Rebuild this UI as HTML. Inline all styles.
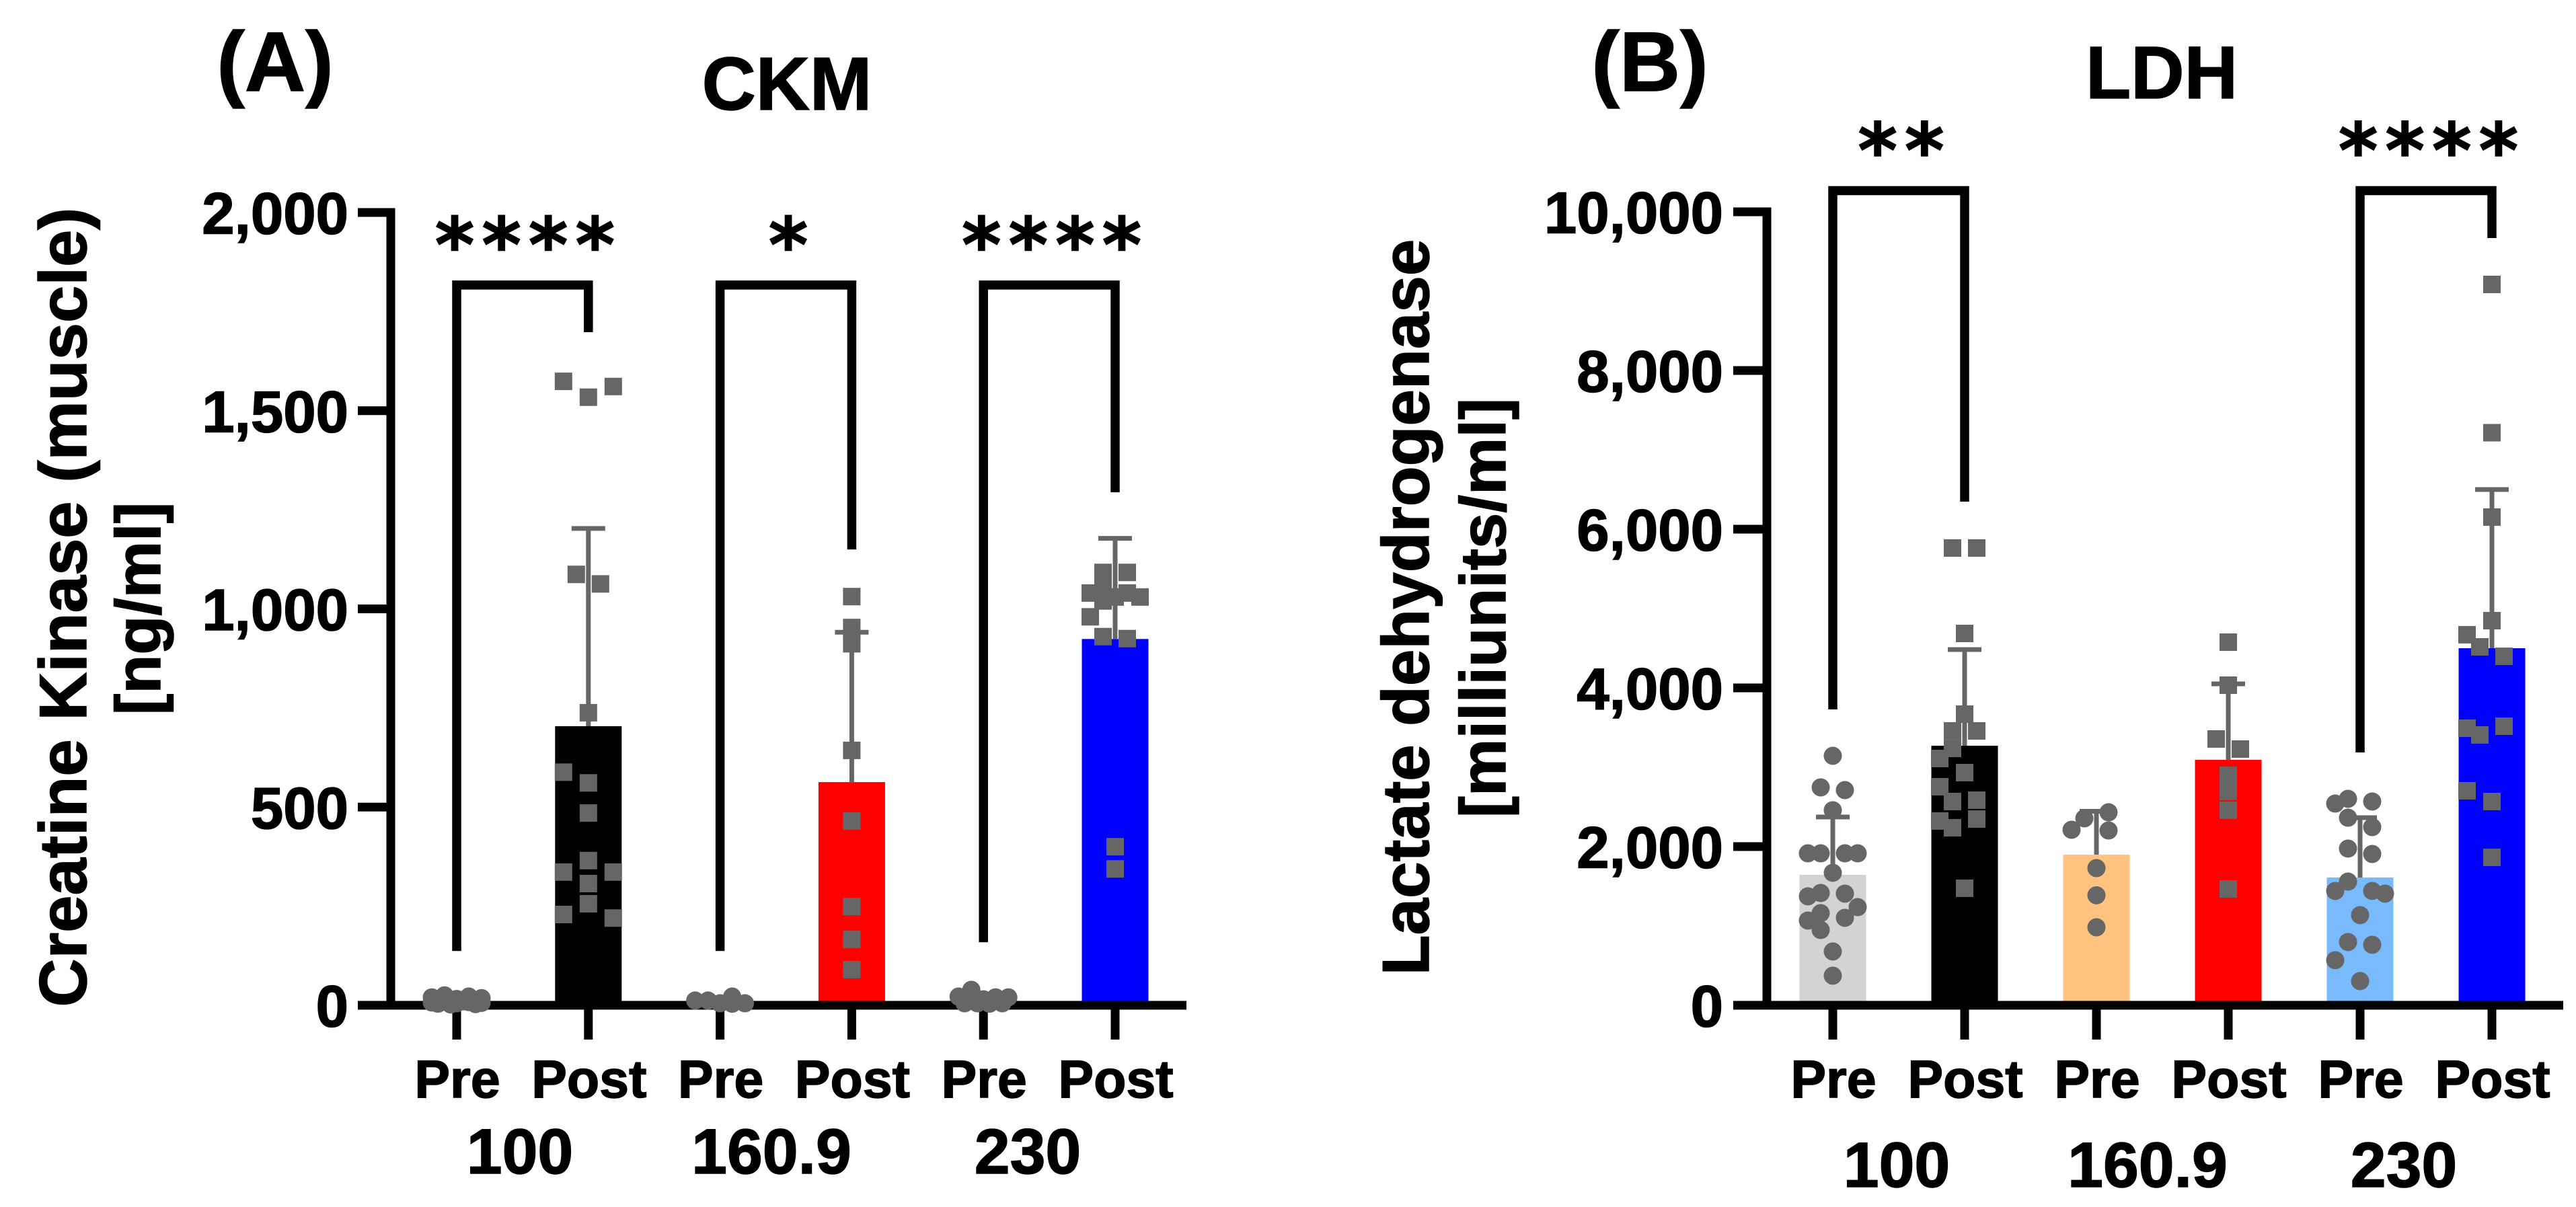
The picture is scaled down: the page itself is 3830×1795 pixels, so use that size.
<!DOCTYPE html>
<html lang="en">
<head>
<meta charset="utf-8">
<title>CKM and LDH pre/post bar charts</title>
<style>
html,body{margin:0;padding:0;background:#fff;}
svg{display:block;}
text{font-family:"Liberation Sans",Arial,sans-serif;font-weight:700;fill:#000;stroke:#000;stroke-width:1.5px;}
.stars{font-family:"DejaVu Sans",sans-serif;font-weight:700;}
</style>
</head>
<body>
<svg id="chart" xmlns="http://www.w3.org/2000/svg" width="3830" height="1795" viewBox="0 0 3830 1795">
  <rect x="0" y="0" width="3830" height="1795" fill="#fff"/>
  <g id="panel-a">
    <text x="409" y="135" font-size="125" text-anchor="middle">(A)</text>
    <text x="1170" y="163" font-size="111" text-anchor="middle">CKM</text>
    <text transform="translate(128 903) rotate(-90)" font-size="99.5" text-anchor="middle">Creatine Kinase (muscle)</text>
    <text transform="translate(238 905) rotate(-90)" font-size="95" text-anchor="middle">[ng/ml]</text>
  </g>
  <g id="panel-b">
    <text x="2453" y="135" font-size="125" text-anchor="middle">(B)</text>
    <text x="3214" y="146" font-size="110" text-anchor="middle">LDH</text>
    <text transform="translate(2124 903) rotate(-90)" font-size="98" text-anchor="middle">Lactate dehydrogenase</text>
    <text transform="translate(2238 904) rotate(-90)" font-size="96" text-anchor="middle">[milliunits/ml]</text>
  </g>
</svg>
<script>
// ---------- shared categories ----------
const timepoints = ['Pre', 'Post', 'Pre', 'Post', 'Pre', 'Post'];
const groupLabels = ['100', '160.9', '230'];

// ---------- panel A: CKM (ng/ml) ----------
const ckmTicks = [0, 500, 1000, 1500, 2000];
const ckmTickLabels = ['0', '500', '1,000', '1,500', '2,000'];
const ckmMeans = [12, 704, 10, 563, 12, 924];
const ckmSds = [7, 499, 7, 378, 11, 254];
const ckmPre100 = [25, 22, 20, 18, 16, 14, 12, 11, 10, 9, 8, 7, 6, 5, 4, 3, 2];
const ckmPost100 = [1534, 1574, 1561, 1087, 1063, 738, 561, 588, 485, 365, 307, 336, 336, 256, 229, 220];
const ckmPre160 = [12, 22, 12, 5, 5, 4];
const ckmPost160 = [1031, 953, 912, 643, 465, 249, 166, 90];
const ckmPre230 = [39, 20, 22, 20, 15, 15, 5, 5, 5, 4];
const ckmPost230 = [1092, 1092, 1050, 1040, 1040, 1030, 1030, 1020, 980, 930, 925, 400, 344];
const ckmBracketPairs = [[0, 1], [2, 3], [4, 5]];
const ckmBracketTops = [1817, 1817, 1817];
const ckmBracketLeftEnds = [137, 137, 159];
const ckmBracketRightEnds = [1698, 1150, 1294];
const ckmStars = ['****', '*', '****'];

// ---------- panel B: LDH (milliunits/ml) ----------
const ldhTicks = [0, 2000, 4000, 6000, 8000, 10000];
const ldhTickLabels = ['0', '2,000', '4,000', '6,000', '8,000', '10,000'];
const ldhMeans = [1644, 3271, 1898, 3093, 1610, 4500];
const ldhSds = [729, 1212, 547, 958, 754, 2000];
const ldhPre100 = [3144, 2746, 2712, 2458, 1915, 1915, 1915, 1915, 1670, 1415, 1407, 1373, 1237, 1161, 1102, 1068, 949, 678, 373];
const ldhPost100 = [5763, 5763, 4686, 3669, 3458, 3458, 2932, 3237, 3110, 2754, 2568, 2585, 2237, 2347, 2322, 1475];
const ldhPre160 = [2356, 2432, 2203, 2212, 1729, 1386, 983];
const ldhPost160 = [4576, 4034, 3356, 3229, 2898, 2695, 2458, 1466];
const ldhPre230 = [2602, 2568, 2542, 2364, 2246, 1975, 1907, 1559, 1441, 1441, 1407, 1136, 797, 763, 568, 305];
const ldhPost230 = [9085, 7216, 6153, 4847, 4670, 4517, 4398, 3407, 3517, 3492, 2568, 2703, 1864];
const ldhBracketPairs = [[0, 1], [4, 5]];
const ldhBracketTops = [10267, 10267];
const ldhBracketLeftEnds = [3729, 3186];
const ldhBracketRightEnds = [6347, 9669];
const ldhStars = ['**', '****'];

const SVGNS = 'http://www.w3.org/2000/svg';
const POINT_GREY = '#666666';

function make(tag, attrs, parent) {
  const node = document.createElementNS(SVGNS, tag);
  for (const k in attrs) node.setAttribute(k, attrs[k]);
  parent.appendChild(node);
  return node;
}

// Beeswarm layout: each value is placed in array order in the first free lane.
const LONE_LANES = [0, -37, 37, -18, 18, -12, 12];
const TIED_LANES = [-18, 18, -37, 37, 0, -12, 12];
function swarm(values, yOf) {
  const placed = [];
  return values.map(function (v, i) {
    const y = yOf(v);
    const tied = values.some(function (o, j) { return j !== i && Math.abs(yOf(o) - y) < 15; });
    const lanes = tied ? TIED_LANES : LONE_LANES;
    let lane = null;
    for (const c of lanes) {
      const hit = placed.some(function (p) {
        const dx = Math.abs(p.dx - c);
        const dy = Math.abs(p.y - y);
        return dx === 0 ? dy < 22 : (dx <= 18 && dy < 24.5);
      });
      if (!hit) { lane = c; break; }
    }
    if (lane === null) {
      let best = -1;
      for (const c of [-37, 37, -18, 18, 0, -28, 28, -9, 9]) {
        let nearest = 1e9;
        for (const p of placed) nearest = Math.min(nearest, Math.hypot(p.dx - c, p.y - y));
        if (nearest > best) { best = nearest; lane = c; }
      }
    }
    placed.push({ dx: lane, y: y });
    return lane;
  });
}

function drawPanel(cfg) {
  const root = document.getElementById(cfg.id);
  const yOf = function (v) { return cfg.y0 - v * cfg.pxPerUnit; };
  const xOf = function (i) { return cfg.x0 + i * cfg.step; };

  // bars
  cfg.means.forEach(function (m, i) {
    const top = yOf(m);
    const bar = make('rect', { x: xOf(i) - 49.5, y: top, width: 99, height: cfg.y0 - top, fill: cfg.colors[i] }, root);
    
    
  });

  // axes
  const yAxis = make('line', { x1: cfg.axisX, x2: cfg.axisX, y1: yOf(cfg.ticks[cfg.ticks.length - 1]) - 6.5, y2: cfg.y0 + 6, stroke: '#000', 'stroke-width': 13 }, root);
  
  
  const xAxis = make('line', { x1: cfg.tickX, x2: cfg.xEnd, y1: cfg.y0, y2: cfg.y0, stroke: '#000', 'stroke-width': 13 }, root);
  
  

  cfg.ticks.forEach(function (t, i) {
    const y = yOf(t);
    const tick = make('line', { x1: cfg.tickX, x2: cfg.axisX, y1: y, y2: y, stroke: '#000', 'stroke-width': 13 }, root);
    
    
    const label = make('text', { x: cfg.tickLabelX, y: y + 31.5, 'font-size': 87, 'text-anchor': 'end' }, root);
    
    
    label.textContent = cfg.tickLabels[i];
  });

  timepoints.forEach(function (t, i) {
    const tick = make('line', { x1: xOf(i), x2: xOf(i), y1: cfg.y0 + 6, y2: 1546, stroke: '#000', 'stroke-width': 13 }, root);
    
    
    const label = make('text', { x: xOf(i) + 1, y: 1632, 'font-size': 79, 'text-anchor': 'middle' }, root);
    
    
    label.textContent = t;
  });

  groupLabels.forEach(function (g, i) {
    const label = make('text', { x: cfg.groupX + i * cfg.groupStep[i], y: cfg.groupY, 'font-size': 95, 'text-anchor': 'middle' }, root);
    
    
    label.textContent = g;
  });

  // significance brackets
  cfg.bracketPairs.forEach(function (pair, i) {
    const xa = xOf(pair[0]);
    const xb = xOf(pair[1]);
    const pts = [xa, yOf(cfg.bracketLeftEnds[i]), xa, yOf(cfg.bracketTops[i]), xb, yOf(cfg.bracketTops[i]), xb, yOf(cfg.bracketRightEnds[i])].join(' ');
    const bracket = make('polyline', { points: pts, fill: 'none', stroke: '#000', 'stroke-width': 13.5, 'stroke-linejoin': 'miter' }, root);
    
    
    const stars = make('text', { x: (xa + xb) / 2 + cfg.starShift + 5, y: yOf(cfg.bracketTops[i]) + cfg.starDy, 'font-size': 112, 'text-anchor': 'middle', 'letter-spacing': 11, class: 'stars' }, root);
    
    
    stars.textContent = cfg.stars[i];
  });

  // error bars (upper SD only)
  cfg.means.forEach(function (m, i) {
    const top = yOf(m + cfg.sds[i]);
    const stem = make('line', { x1: xOf(i), x2: xOf(i), y1: yOf(m), y2: top, stroke: POINT_GREY, 'stroke-width': 7 }, root);
    
    
    const cap = make('line', { x1: xOf(i) - 25, x2: xOf(i) + 25, y1: top, y2: top, stroke: POINT_GREY, 'stroke-width': 7 }, root);
    
    
  });

  // individual points: circles for Pre, squares for Post
  cfg.points.forEach(function (values, i) {
    const lanes = swarm(values, yOf);
    values.forEach(function (v, j) {
      const cx = xOf(i) + lanes[j];
      const cy = yOf(v);
      let mark;
      if (timepoints[i] === 'Pre') {
        mark = make('ellipse', { cx: cx, cy: cy, rx: 13.5, ry: 13.5, fill: POINT_GREY }, root);
      } else {
        mark = make('rect', { x: cx - 13, y: cy - 13, width: 26, height: 26, fill: POINT_GREY }, root);
      }
      
      
    });
  });
}

drawPanel({
  id: 'panel-a', y0: 1495, pxPerUnit: 1179 / 2000, x0: 679, step: 195.8,
  axisX: 581, tickX: 532, xEnd: 1764, tickLabelX: 518,
  ticks: ckmTicks, tickLabels: ckmTickLabels, means: ckmMeans, sds: ckmSds,
  colors: ['#d3d3d3', '#000000', '#ffc27f', '#ff0000', '#78bafb', '#0000ff'],
  points: [ckmPre100, ckmPost100, ckmPre160, ckmPost160, ckmPre230, ckmPost230],
  bracketPairs: ckmBracketPairs, bracketTops: ckmBracketTops, bracketLeftEnds: ckmBracketLeftEnds,
  bracketRightEnds: ckmBracketRightEnds, stars: ckmStars, starShift: 4, starDy: -20,
  groupX: 773, groupStep: [0, 374, 377.5], groupY: 1745
});

drawPanel({
  id: 'panel-b', y0: 1495, pxPerUnit: 1180 / 10000, x0: 2725, step: 196,
  axisX: 2627, tickX: 2577, xEnd: 3811, tickLabelX: 2562,
  ticks: ldhTicks, tickLabels: ldhTickLabels, means: ldhMeans, sds: ldhSds,
  colors: ['#d3d3d3', '#000000', '#ffc27f', '#ff0000', '#78bafb', '#0000ff'],
  points: [ldhPre100, ldhPost100, ldhPre160, ldhPost160, ldhPre230, ldhPost230],
  bracketPairs: ldhBracketPairs, bracketTops: ldhBracketTops, bracketLeftEnds: ldhBracketLeftEnds,
  bracketRightEnds: ldhBracketRightEnds, stars: ldhStars, starShift: 4, starDy: -20,
  groupX: 2820, groupStep: [0, 373, 377], groupY: 1765
});
</script>
</body>
</html>
